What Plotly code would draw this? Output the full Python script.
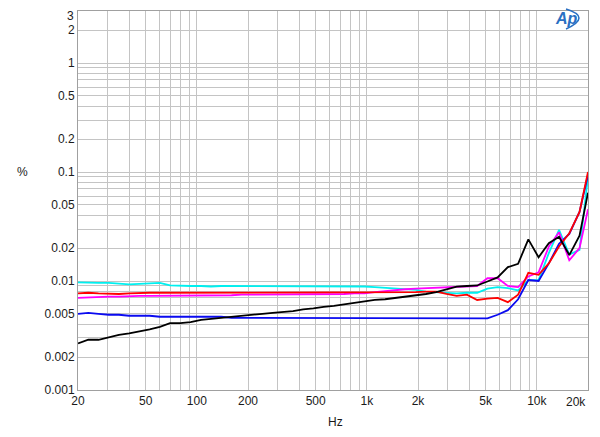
import plotly.graph_objects as go
import numpy as np

freq = [20, 23, 26.4, 30.3, 34.8, 40, 46, 52.8, 60.6, 69.6,
        80, 91.9, 106, 121, 139, 160, 184, 211, 243, 279,
        320, 368, 422, 485, 557, 640, 735, 845, 970, 1114,
        1280, 1470, 1689, 1940, 2229, 2560, 2941, 3378, 3880, 4457,
        5120, 5881, 6756, 7760, 8914, 10240, 11763, 13512, 15521, 17829, 20000]

black = [0.00268, 0.00289, 0.00289, 0.00305, 0.0032, 0.0033, 0.00343, 0.0036, 0.0038, 0.0041,
         0.0041, 0.0042, 0.0044, 0.0045, 0.0046, 0.0047, 0.0048, 0.0049, 0.0050, 0.0051,
         0.0052, 0.0053, 0.0055, 0.0056, 0.0058, 0.0059, 0.0061, 0.0063, 0.0065, 0.0067,
         0.0068, 0.0070, 0.0071, 0.0073, 0.0076, 0.0079, 0.0084, 0.0089, 0.0090, 0.0091,
         0.0099, 0.0108, 0.0134, 0.0144, 0.0241, 0.0165, 0.0222, 0.0255, 0.0173, 0.0260, 0.0646]

blue = [0.0050, 0.0051, 0.0050, 0.0049, 0.0049, 0.0048, 0.0048, 0.0048, 0.0047, 0.0047,
        0.0047, 0.0047, 0.0047, 0.0047, 0.0047, 0.0046, 0.0046, 0.0046, 0.0046, 0.0046,
        0.0046, 0.0046, 0.0046, 0.0046, 0.0046, 0.0046, 0.0046, 0.0046, 0.0046, 0.0046,
        0.0046, 0.0046, 0.0046, 0.0046, 0.0046, 0.0046, 0.0046, 0.0046, 0.0046, 0.0046,
        0.00455, 0.0049, 0.0054, 0.0068, 0.0102, 0.0100, 0.0145, 0.0220, 0.0270, 0.0430, 0.094]

cyan = [0.0097, 0.0096, 0.0096, 0.0096, 0.0094, 0.0093, 0.0094, 0.0095, 0.0096, 0.0091,
        0.0090, 0.0090, 0.0090, 0.0089, 0.0090, 0.0090, 0.0089, 0.0090, 0.0090, 0.0089,
        0.0090, 0.0090, 0.0089, 0.0090, 0.0089, 0.0089, 0.0089, 0.0089, 0.0089, 0.0088,
        0.0087, 0.0086, 0.0085, 0.0083, 0.0080, 0.0079, 0.0078, 0.0077, 0.0078, 0.0078,
        0.0085, 0.0088, 0.0086, 0.0082, 0.0102, 0.0102, 0.0180, 0.0294, 0.0175, 0.0193, 0.090]

red = [0.0077, 0.0078, 0.0077, 0.0076, 0.0076, 0.0077, 0.0078, 0.0078, 0.0078, 0.0078,
       0.0078, 0.0078, 0.0078, 0.0078, 0.0079, 0.0078, 0.0078, 0.0079, 0.0079, 0.0078,
       0.0078, 0.0079, 0.0079, 0.0079, 0.0079, 0.0079, 0.0079, 0.0079, 0.0079, 0.0079,
       0.0079, 0.0079, 0.0079, 0.0079, 0.0080, 0.0080, 0.0076, 0.0073, 0.0075, 0.0067,
       0.0069, 0.0070, 0.0064, 0.0075, 0.0119, 0.0114, 0.0145, 0.0207, 0.0274, 0.0430, 0.100]

magenta = [0.0070, 0.0071, 0.0072, 0.0072, 0.0072, 0.0073, 0.0073, 0.0073, 0.0073, 0.0073,
           0.0074, 0.0074, 0.0074, 0.0074, 0.0074, 0.0074, 0.0075, 0.0075, 0.0075, 0.0075,
           0.0075, 0.0075, 0.0075, 0.0076, 0.0076, 0.0076, 0.0076, 0.0077, 0.0077, 0.0079,
           0.0081, 0.0083, 0.0084, 0.0085, 0.0086, 0.0087, 0.0088, 0.0089, 0.0090, 0.0090,
           0.0106, 0.0106, 0.0090, 0.0088, 0.0110, 0.0120, 0.0207, 0.0280, 0.0155, 0.0200, 0.0455]

x_tickvals = [20, 50, 100, 200, 500, 1000, 2000, 5000, 10000, 20000]
x_ticktext = ["20", "50", "100", "200", "500", "1k", "2k", "5k", "10k", ""]
y_tickvals = [3, 2, 1, 0.5, 0.2, 0.1, 0.05, 0.02, 0.01, 0.005, 0.002, 0.001]
y_ticktext = ["", "2", "1", "0.5", "0.2", "0.1", "0.05", "0.02", "0.01", "0.005", "0.002", "0.001"]

x_grid = [n * 10 ** k for k in range(1, 5) for n in range(1, 10) if 20 <= n * 10 ** k <= 20000]
y_grid = [n * 10.0 ** k for k in range(-3, 1) for n in range(1, 10) if n * 10.0 ** k <= 3]

series = [
    ("cyan", cyan, "#00f0f0"),
    ("blue", blue, "#0a0af0"),
    ("magenta", magenta, "#ff00ff"),
    ("red", red, "#ff0000"),
    ("black", black, "#000000"),
]

fig = go.Figure()
for name, vals, col in series:
    fig.add_trace(go.Scatter(x=freq, y=vals, mode="lines", name=name,
                             line=dict(color=col, width=1.8), showlegend=False))

grid_col = "#c4c4c4"
font = dict(family="Liberation Sans, Arial, sans-serif", size=12, color="#1a1a1a")

# page body has an 8px margin, so the figure is 584x421 and offset accordingly
fig.update_layout(
    template="none",
    width=584, height=421,
    margin=dict(l=70, r=4, t=3, b=39, autoexpand=False),
    paper_bgcolor="white", plot_bgcolor="white",
    font=font,
    showlegend=False,
    xaxis=dict(type="log", range=[np.log10(20), np.log10(20000)], automargin=False,
               tickmode="array", tickvals=x_tickvals, ticktext=x_ticktext,
               showgrid=True, gridcolor=grid_col, gridwidth=1,
               minor=dict(tickmode="array", tickvals=x_grid, showgrid=True,
                          gridcolor=grid_col, gridwidth=1, ticks=""),
               showline=True, linecolor="#a0a0a0", linewidth=1, mirror=True,
               ticks="", zeroline=False),
    yaxis=dict(type="log", range=[-3, np.log10(3)], automargin=False,
               tickmode="array", tickvals=y_tickvals, ticktext=y_ticktext,
               showgrid=True, gridcolor=grid_col, gridwidth=1,
               minor=dict(tickmode="array", tickvals=y_grid, showgrid=True,
                          gridcolor=grid_col, gridwidth=1, ticks=""),
               showline=True, linecolor="#a0a0a0", linewidth=1, mirror=True,
               ticks="", zeroline=False),
)

# top tick label "3" placed by hand so it is not hidden at the page edge
fig.add_annotation(text="3", x=0, y=1, xref="paper", yref="paper",
                   xanchor="right", yanchor="top", xshift=-2, yshift=4,
                   showarrow=False, font=font)
fig.add_annotation(text="20k", x=1.0, y=0, xref="paper", yref="paper",
                   xanchor="right", yanchor="top", yshift=-3, showarrow=False, font=font)
fig.add_annotation(text="Hz", x=0.505, y=0, xref="paper", yref="paper",
                   xanchor="center", yanchor="top", yshift=-23, showarrow=False, font=font)
fig.add_annotation(text="%", x=0, y=(390 - 172) / 379, xref="paper", yref="paper",
                   xanchor="center", yanchor="middle", xshift=-56, showarrow=False, font=font)

# Ap logo
logo_col = "#2a6fc2"
fig.add_annotation(text="<b><i>Ap</i></b>", x=(566 - 78) / 510, y=(390 - 19) / 379,
                   xref="paper", yref="paper", xanchor="center", yanchor="middle",
                   showarrow=False,
                   font=dict(family="Liberation Sans, Arial, sans-serif", size=16, color=logo_col))
fig.add_shape(type="path", xref="paper", yref="paper",
              path="M {:.4f},{:.4f} Q {:.4f},{:.4f} {:.4f},{:.4f}".format(
                  (566 - 78) / 510, (390 - 9) / 379,
                  (592 - 78) / 510, (390 - 17) / 379,
                  (566 - 78) / 510, (390 - 29) / 379),
              line=dict(color=logo_col, width=1.5))

fig.write_html("out.html")
